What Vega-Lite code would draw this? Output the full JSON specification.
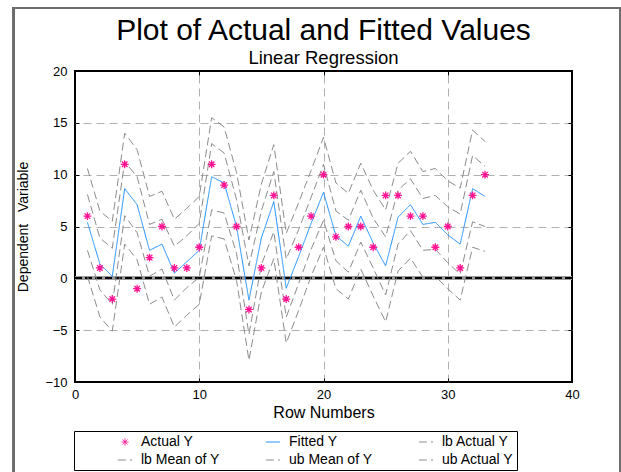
{
  "$schema": "https://vega.github.io/schema/vega-lite/v6.json",
  "width": 497,
  "height": 311,
  "autosize": {"type": "none"},
  "padding": {"left": 75, "top": 71, "right": 49, "bottom": 90},
  "background": "white",
  "title": {
    "text": "Plot of Actual and Fitted Values",
    "subtitle": "Linear Regression",
    "anchor": "middle",
    "frame": "group",
    "font": "Liberation Sans",
    "fontSize": 30,
    "fontWeight": "normal",
    "color": "black",
    "subtitleFont": "Liberation Sans",
    "subtitleFontSize": 18.5,
    "subtitleColor": "black",
    "subtitlePadding": 3,
    "offset": -60.6
  },
  "data": {
    "values": [
      {"row": 1, "actual": 6, "fitted": 5.4, "lbActual": 0.2, "lbMean": 2.7, "ubMean": 8.1, "ubActual": 10.6},
      {"row": 2, "actual": 1, "fitted": 1.4, "lbActual": -3.7, "lbMean": -1.1, "ubMean": 3.9, "ubActual": 6.5},
      {"row": 3, "actual": -2, "fitted": 0.2, "lbActual": -5.1, "lbMean": -2.5, "ubMean": 2.9, "ubActual": 5.5},
      {"row": 4, "actual": 11, "fitted": 8.65, "lbActual": 3.3, "lbMean": 6.05, "ubMean": 11.25, "ubActual": 14.0},
      {"row": 5, "actual": -1, "fitted": 7.1, "lbActual": 1.8, "lbMean": 4.4, "ubMean": 9.8, "ubActual": 12.4},
      {"row": 6, "actual": 2, "fitted": 2.7, "lbActual": -2.5, "lbMean": 0.2, "ubMean": 5.2, "ubActual": 7.9},
      {"row": 7, "actual": 5, "fitted": 3.3, "lbActual": -1.8, "lbMean": 0.9, "ubMean": 5.7, "ubActual": 8.4},
      {"row": 8, "actual": 1, "fitted": 0.5, "lbActual": -4.7, "lbMean": -2.1, "ubMean": 3.1, "ubActual": 5.7},
      {"row": 9, "actual": 1, "fitted": 1.6, "lbActual": -3.55, "lbMean": -0.9, "ubMean": 4.1, "ubActual": 6.75},
      {"row": 10, "actual": 3, "fitted": 2.7, "lbActual": -2.5, "lbMean": 0.1, "ubMean": 5.3, "ubActual": 7.9},
      {"row": 11, "actual": 11, "fitted": 9.8, "lbActual": 4.1, "lbMean": 6.6, "ubMean": 13.0, "ubActual": 15.5},
      {"row": 12, "actual": 9, "fitted": 9.2, "lbActual": 3.8, "lbMean": 6.3, "ubMean": 12.1, "ubActual": 14.6},
      {"row": 13, "actual": 5, "fitted": 5.0, "lbActual": -0.2, "lbMean": 2.4, "ubMean": 7.6, "ubActual": 10.2},
      {"row": 14, "actual": -3, "fitted": -2.1, "lbActual": -7.9, "lbMean": -5.4, "ubMean": 1.2, "ubActual": 3.7},
      {"row": 15, "actual": 1, "fitted": 3.9, "lbActual": -1.3, "lbMean": 1.3, "ubMean": 6.5, "ubActual": 9.1},
      {"row": 16, "actual": 8, "fitted": 7.4, "lbActual": 1.9, "lbMean": 4.5, "ubMean": 10.3, "ubActual": 12.9},
      {"row": 17, "actual": -2, "fitted": -0.95, "lbActual": -6.25, "lbMean": -3.75, "ubMean": 1.85, "ubActual": 4.35},
      {"row": 18, "actual": 3, "fitted": 2.1, "lbActual": -3.1, "lbMean": -0.5, "ubMean": 4.7, "ubActual": 7.3},
      {"row": 19, "actual": 6, "fitted": 5.3, "lbActual": 0.2, "lbMean": 2.8, "ubMean": 7.8, "ubActual": 10.4},
      {"row": 20, "actual": 10, "fitted": 8.3, "lbActual": 3.0, "lbMean": 5.6, "ubMean": 11.0, "ubActual": 13.6},
      {"row": 21, "actual": 4, "fitted": 4.1, "lbActual": -1.0, "lbMean": 1.7, "ubMean": 6.5, "ubActual": 9.2},
      {"row": 22, "actual": 5, "fitted": 3.1, "lbActual": -2.0, "lbMean": 0.6, "ubMean": 5.6, "ubActual": 8.2},
      {"row": 23, "actual": 5, "fitted": 6.0, "lbActual": 0.9, "lbMean": 3.5, "ubMean": 8.5, "ubActual": 11.1},
      {"row": 24, "actual": 3, "fitted": 3.4, "lbActual": -1.7, "lbMean": 1.0, "ubMean": 5.8, "ubActual": 8.5},
      {"row": 25, "actual": 8, "fitted": 1.2, "lbActual": -4.2, "lbMean": -1.6, "ubMean": 4.0, "ubActual": 6.6},
      {"row": 26, "actual": 8, "fitted": 5.9, "lbActual": 0.7, "lbMean": 3.3, "ubMean": 8.5, "ubActual": 11.1},
      {"row": 27, "actual": 6, "fitted": 7.1, "lbActual": 1.95, "lbMean": 4.6, "ubMean": 9.6, "ubActual": 12.25},
      {"row": 28, "actual": 6, "fitted": 5.2, "lbActual": 0.1, "lbMean": 2.7, "ubMean": 7.7, "ubActual": 10.3},
      {"row": 29, "actual": 3, "fitted": 5.4, "lbActual": 0.2, "lbMean": 2.8, "ubMean": 8.0, "ubActual": 10.6},
      {"row": 30, "actual": 5, "fitted": 4.2, "lbActual": -1.0, "lbMean": 1.5, "ubMean": 6.9, "ubActual": 9.4},
      {"row": 31, "actual": 1, "fitted": 3.3, "lbActual": -2.1, "lbMean": 0.4, "ubMean": 6.2, "ubActual": 8.7},
      {"row": 32, "actual": 8, "fitted": 8.65, "lbActual": 3.0, "lbMean": 5.45, "ubMean": 11.85, "ubActual": 14.3},
      {"row": 33, "actual": 10, "fitted": 7.9, "lbActual": 2.6, "lbMean": 5.0, "ubMean": 10.8, "ubActual": 13.2}
    ]
  },
  "transform": [
    {"fold": ["actual", "fitted", "lbActual", "lbMean", "ubMean", "ubActual"], "as": ["series", "value"]}
  ],
  "resolve": {"axis": {"x": "independent", "y": "independent"}},
  "layer": [
    {
      "mark": {"type": "rect", "fill": null, "stroke": "#6e6e6e", "strokeWidth": 1.2, "clip": false},
      "encoding": {
        "x": {"datum": -4.95, "type": "quantitative", "axis": null},
        "x2": {"datum": 43.86},
        "y": {"datum": 26.1, "type": "quantitative", "axis": null},
        "y2": {"datum": -20}
      }
    },
    {
      "mark": {"type": "rule", "stroke": "#9a9a9a", "strokeWidth": 3},
      "encoding": {"y": {"datum": 0, "type": "quantitative", "axis": null}}
    },
    {
      "mark": {"type": "rule", "stroke": "black", "strokeWidth": 1.5, "strokeDash": [7, 3]},
      "encoding": {"y": {"datum": 0, "type": "quantitative", "axis": null}}
    },
    {
      "transform": [{"filter": "datum.series != 'actual'"}],
      "mark": {"type": "line", "strokeWidth": 1, "clip": true},
      "encoding": {
        "x": {
          "field": "row", "type": "quantitative",
          "scale": {"domain": [0, 40], "nice": false},
          "axis": {"orient": "bottom", "values": [0, 10, 20, 30, 40], "grid": false, "domain": false,
                   "tickSize": -4, "tickColor": "black", "labelPadding": 10, "labelFontSize": 13, "labelFlush": false,
                   "title": "Row Numbers", "titleFontSize": 16, "titlePadding": 3}
        },
        "y": {
          "field": "value", "type": "quantitative",
          "scale": {"domain": [-10, 20], "nice": false},
          "axis": {"orient": "left", "values": [-10, -5, 0, 5, 10, 15, 20], "grid": false, "domain": false,
                   "tickSize": -4, "tickColor": "black", "labelPadding": 12, "labelFontSize": 13, "labelFlush": false,
                   "title": "Dependent\u00a0\u00a0\u00a0Variable", "titleFontSize": 14, "titlePadding": 14}
        },
        "color": {
          "field": "series", "type": "nominal",
          "scale": {"domain": ["actual", "fitted", "lbActual", "lbMean", "ubMean", "ubActual"],
                    "range": ["#ff1493", "#1e90ff", "#8c8c8c", "#8c8c8c", "#8c8c8c", "#8c8c8c"]},
          "legend": {
            "title": "\u00a0", "titleOrient": "left", "titlePadding": 40, "titleFontSize": 14,
            "orient": "none", "legendX": -1, "legendY": 360, "direction": "horizontal",
            "columns": 3, "gridAlign": "each", "columnPadding": 43, "rowPadding": 3, "padding": 3,
            "strokeColor": "black", "symbolSize": 200, "symbolStrokeWidth": 1,
            "labelFont": "Liberation Sans", "labelFontSize": 14, "labelOffset": 8, "labelColor": "black",
            "labelExpr": "{'actual':'Actual Y','fitted':'Fitted Y','lbActual':'lb Actual Y','lbMean':'lb Mean of Y','ubMean':'ub Mean of Y','ubActual':'ub Actual Y\u00a0\u00a0\u00a0\u00a0\u00a0\u00a0\u00a0\u00a0\u00a0\u00a0\u00a0\u00a0\u00a0\u00a0\u00a0\u00a0\u00a0\u00a0'}[datum.value]"
          }
        },
        "strokeDash": {
          "field": "series", "type": "nominal",
          "scale": {"domain": ["actual", "fitted", "lbActual", "lbMean", "ubMean", "ubActual"],
                    "range": [[1, 0], [1, 0], [8, 4], [8, 4], [8, 4], [8, 4]]},
          "legend": {
            "title": "\u00a0", "titleOrient": "left", "titlePadding": 40, "titleFontSize": 14,
            "orient": "none", "legendX": -1, "legendY": 360, "direction": "horizontal",
            "columns": 3, "gridAlign": "each", "columnPadding": 43, "rowPadding": 3, "padding": 3,
            "strokeColor": "black", "symbolSize": 200, "symbolStrokeWidth": 1,
            "labelFont": "Liberation Sans", "labelFontSize": 14, "labelOffset": 8, "labelColor": "black",
            "labelExpr": "{'actual':'Actual Y','fitted':'Fitted Y','lbActual':'lb Actual Y','lbMean':'lb Mean of Y','ubMean':'ub Mean of Y','ubActual':'ub Actual Y\u00a0\u00a0\u00a0\u00a0\u00a0\u00a0\u00a0\u00a0\u00a0\u00a0\u00a0\u00a0\u00a0\u00a0\u00a0\u00a0\u00a0\u00a0'}[datum.value]"
          }
        }
      }
    },
    {
      "transform": [{"filter": "datum.series == 'actual'"}],
      "mark": {"type": "point", "filled": false, "strokeWidth": 1.3, "size": 250, "opacity": 1},
      "encoding": {
        "x": {
          "field": "row", "type": "quantitative",
          "axis": {"orient": "top", "values": [10, 20, 30], "labels": false, "grid": true, "domain": false,
                   "tickSize": -4, "tickColor": "black", "title": null}
        },
        "y": {
          "field": "value", "type": "quantitative",
          "axis": {"orient": "right", "values": [-5, 5, 10, 15], "labels": false, "grid": true, "domain": false,
                   "tickSize": -4, "tickColor": "black", "title": null}
        },
        "color": {
          "field": "series", "type": "nominal",
          "scale": {"domain": ["actual", "fitted", "lbActual", "lbMean", "ubMean", "ubActual"],
                    "range": ["#ff1493", "#1e90ff", "#8c8c8c", "#8c8c8c", "#8c8c8c", "#8c8c8c"]}
        },
        "shape": {
          "field": "series", "type": "nominal",
          "scale": {"domain": ["actual", "fitted", "lbActual", "lbMean", "ubMean", "ubActual"],
                    "range": ["M-0.5,0L0.5,0M0,-0.5L0,0.5M-0.35,-0.35L0.35,0.35M-0.35,0.35L0.35,-0.35", "stroke", "stroke", "stroke", "stroke", "stroke"]},
          "legend": {
            "title": "\u00a0", "titleOrient": "left", "titlePadding": 40, "titleFontSize": 14,
            "orient": "none", "legendX": -1, "legendY": 360, "direction": "horizontal",
            "columns": 3, "gridAlign": "each", "columnPadding": 43, "rowPadding": 3, "padding": 3,
            "strokeColor": "black", "symbolSize": 200, "symbolStrokeWidth": 1,
            "labelFont": "Liberation Sans", "labelFontSize": 14, "labelOffset": 8, "labelColor": "black",
            "labelExpr": "{'actual':'Actual Y','fitted':'Fitted Y','lbActual':'lb Actual Y','lbMean':'lb Mean of Y','ubMean':'ub Mean of Y','ubActual':'ub Actual Y\u00a0\u00a0\u00a0\u00a0\u00a0\u00a0\u00a0\u00a0\u00a0\u00a0\u00a0\u00a0\u00a0\u00a0\u00a0\u00a0\u00a0\u00a0'}[datum.value]"
          }
        }
      }
    }
  ],
  "config": {
    "view": {"stroke": "black", "strokeWidth": 2},
    "font": "Liberation Sans",
    "axis": {
      "labelFont": "Liberation Sans", "titleFont": "Liberation Sans",
      "labelColor": "black", "titleColor": "black", "titleFontWeight": "normal",
      "gridColor": "#b0b0b0", "gridDash": [8, 5], "gridWidth": 1, "gridOpacity": 1
    }
  }
}
